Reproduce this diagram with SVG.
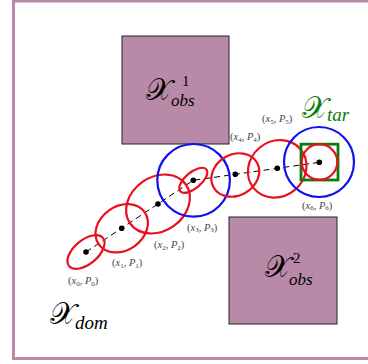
<svg xmlns="http://www.w3.org/2000/svg" width="368" height="364" viewBox="0 0 368 364">
<style>
.obs{fill:#b98aa7;stroke:#222;stroke-width:1}
.red{fill:none;stroke:#e8101e;stroke-width:2.2}
.blue{fill:none;stroke:#1010f0;stroke-width:2.2}
.dot{fill:#000}
.lbl{font-family:"Liberation Serif",serif;font-size:10.5px;fill:#444}
.sub{font-size:7px}
.big{font-family:"DejaVu Serif","Liberation Serif",serif;font-size:30px}
.sc{font-family:"Liberation Serif",serif;font-style:italic}
.up{font-family:"Liberation Serif",serif;font-size:15px}
</style>
<rect x="13.5" y="1" width="360" height="357.5" fill="#fff" stroke="#b98aa7" stroke-width="3"/>
<g id="obs1">
<rect class="obs" x="122" y="36" width="107" height="108"/>
<text x="146" y="100" class="big">𝒳</text>
<text x="182" y="86" class="up">1</text>
<text x="171" y="106" class="sc" font-size="17">obs</text>
</g>
<g id="obs2">
<rect class="obs" x="229" y="217" width="108" height="107"/>
<text x="265" y="277" class="big">𝒳</text>
<text x="293" y="263" class="up">2</text>
<text x="289" y="285" class="sc" font-size="17">obs</text>
</g>
<g id="connectors">
<polyline points="86,252 193.3,180.3 319.3,162.3" fill="none" stroke="#000" stroke-width="1" stroke-dasharray="6,4"/>
</g>
<g id="n0">
<ellipse class="red" cx="86" cy="252" rx="22" ry="12" transform="rotate(-40 86 252)"/>
<circle class="dot" cx="86" cy="252" r="2.8"/>
<text class="lbl" x="68" y="284">(<tspan font-style="italic">x</tspan><tspan class="sub" dy="1.5">0</tspan><tspan dy="-1.5">, </tspan><tspan font-style="italic">P</tspan><tspan class="sub" dy="1.5">0</tspan><tspan dy="-1.5">)</tspan></text>
</g>
<g id="n1">
<ellipse class="red" cx="121.7" cy="228.3" rx="28" ry="22" transform="rotate(-35 121.7 228.3)"/>
<circle class="dot" cx="121.7" cy="228.3" r="2.8"/>
<text class="lbl" x="112" y="266">(<tspan font-style="italic">x</tspan><tspan class="sub" dy="1.5">1</tspan><tspan dy="-1.5">, </tspan><tspan font-style="italic">P</tspan><tspan class="sub" dy="1.5">1</tspan><tspan dy="-1.5">)</tspan></text>
</g>
<g id="n2">
<ellipse class="red" cx="158" cy="204" rx="34" ry="27" transform="rotate(-35 158 204)"/>
<circle class="dot" cx="158" cy="204" r="2.8"/>
<text class="lbl" x="154" y="248">(<tspan font-style="italic">x</tspan><tspan class="sub" dy="1.5">2</tspan><tspan dy="-1.5">, </tspan><tspan font-style="italic">P</tspan><tspan class="sub" dy="1.5">2</tspan><tspan dy="-1.5">)</tspan></text>
</g>
<g id="n3">
<circle class="blue" cx="193.6" cy="180.3" r="36.3"/>
<ellipse class="red" cx="193.3" cy="180.3" rx="17" ry="8" transform="rotate(-40 193.3 180.3)"/>
<circle class="dot" cx="193.3" cy="180.3" r="2.8"/>
<text class="lbl" x="187" y="230.5">(<tspan font-style="italic">x</tspan><tspan class="sub" dy="1.5">3</tspan><tspan dy="-1.5">, </tspan><tspan font-style="italic">P</tspan><tspan class="sub" dy="1.5">3</tspan><tspan dy="-1.5">)</tspan></text>
</g>
<g id="n4">
<ellipse class="red" cx="235.3" cy="175" rx="25" ry="20.5" transform="rotate(-30 235.3 175)"/>
<circle class="dot" cx="235.3" cy="174.3" r="2.8"/>
<text class="lbl" x="230" y="140">(<tspan font-style="italic">x</tspan><tspan class="sub" dy="1.5">4</tspan><tspan dy="-1.5">, </tspan><tspan font-style="italic">P</tspan><tspan class="sub" dy="1.5">4</tspan><tspan dy="-1.5">)</tspan></text>
</g>
<g id="n5">
<ellipse class="red" cx="277.2" cy="168.8" rx="30.5" ry="27.5" transform="rotate(-40 277.2 168.8)"/>
<circle class="dot" cx="277.3" cy="168.3" r="2.8"/>
<text class="lbl" x="262" y="122">(<tspan font-style="italic">x</tspan><tspan class="sub" dy="1.5">5</tspan><tspan dy="-1.5">, </tspan><tspan font-style="italic">P</tspan><tspan class="sub" dy="1.5">5</tspan><tspan dy="-1.5">)</tspan></text>
</g>
<g id="target">
<rect x="301" y="144.2" width="37" height="35.8" fill="none" stroke="#0a7d0a" stroke-width="2.8"/>
<text x="302" y="118" class="big" fill="#0a7d0a">𝒳</text>
<text x="327" y="121" class="sc" font-size="19" fill="#0a7d0a">tar</text>
</g>
<g id="n6">
<circle class="blue" cx="319" cy="162" r="35"/>
<circle class="red" cx="319.5" cy="162" r="17.8"/>
<circle class="dot" cx="319.3" cy="162.3" r="2.8"/>
<text class="lbl" x="302" y="208.5">(<tspan font-style="italic">x</tspan><tspan class="sub" dy="1.5">6</tspan><tspan dy="-1.5">, </tspan><tspan font-style="italic">P</tspan><tspan class="sub" dy="1.5">6</tspan><tspan dy="-1.5">)</tspan></text>
</g>
<g id="domain">
<text x="50" y="324" class="big">𝒳</text>
<text x="75" y="329" class="sc" font-size="19">dom</text>
</g>
</svg>
